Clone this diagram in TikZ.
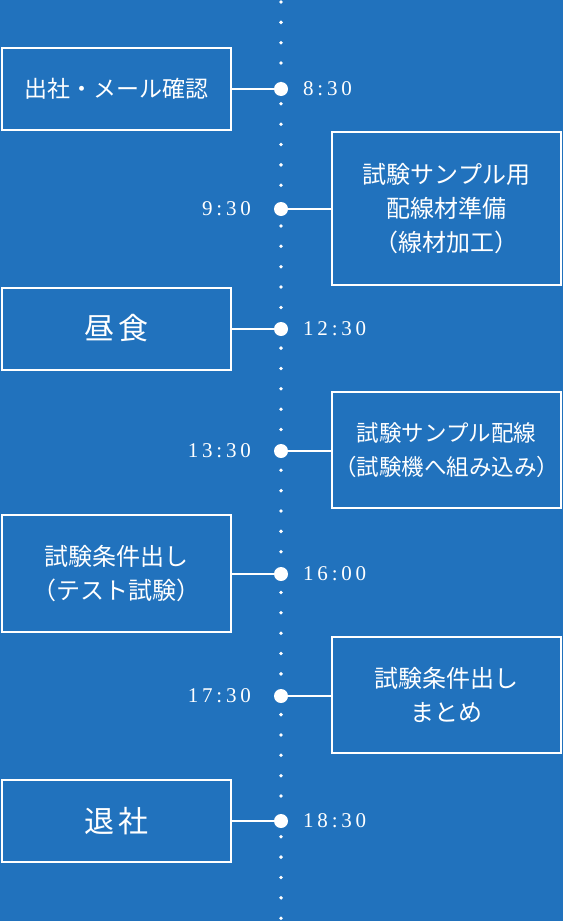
\documentclass[tikz,border=0pt]{standalone}
\usepackage{fontspec}
\setmainfont{Liberation Serif}
\newfontfamily\jp{Noto Sans CJK JP}
\newfontfamily\tmfont[LetterSpace=18]{Liberation Serif}
\definecolor{bg}{RGB}{33,114,189}
\tikzset{
  box/.style={draw=white, line width=2pt, inner sep=0pt, outer sep=0pt, text=white,
    align=center, minimum width=229pt},
  jpmid/.style={font=\jp\fontsize{24}{34}\selectfont},
  jpbig/.style={font=\jp\fontsize{30}{34}\selectfont},
  tdot/.style={circle, fill=white, minimum size=14pt, inner sep=0pt, outer sep=0pt},
  conn/.style={draw=white, line width=2pt},
  tlab/.style={text=white, font=\tmfont\fontsize{21}{21}\selectfont, inner sep=0pt},
}
\begin{document}
\begin{tikzpicture}[x=1pt,y=-1pt]
\fill[bg] (0,0) rectangle (563,921);
\useasboundingbox (0,0) rectangle (563,921);
% dotted axis
\foreach \i in {0,...,45} \fill[white] (281,{2+\i*20.36}) circle (1.9);
% boxes
\node[box, minimum height=82pt, font=\jp\fontsize{23}{30}\selectfont] (b1) at (116.5,89) {出社・メール確認};
\node[box, minimum height=153pt, jpmid] (b2) at (446.5,208.5) {試験サンプル用\\配線材準備\\（線材加工）};
\node[box, minimum height=82pt, jpbig] (b3) at (116.5,328.5) {昼\kern5pt 食};
\node[box, minimum height=116pt, font=\jp\fontsize{22.5}{34}\selectfont] (b4) at (446.5,450) {試験サンプル配線\\（試験機へ組み込み）};
\node[box, minimum height=117pt, jpmid] (b5) at (116.5,573.5) {試験条件出し\\（テスト試験）};
\node[box, minimum height=116pt, jpmid] (b6) at (446.5,695) {試験条件出し\\まとめ};
\node[box, minimum height=82pt, jpbig] (b7) at (116.5,821) {退\kern5pt 社};
% time dots
\node[tdot] (t1) at (281,89) {};
\node[tdot] (t2) at (281,209) {};
\node[tdot] (t3) at (281,329) {};
\node[tdot] (t4) at (281,451) {};
\node[tdot] (t5) at (281,574) {};
\node[tdot] (t6) at (281,696) {};
\node[tdot] (t7) at (281,821) {};
% connectors
\draw[conn] (b1.east) -- (t1);
\draw[conn] (t2) -- (b2.west |- t2);
\draw[conn] (b3.east |- t3) -- (t3);
\draw[conn] (t4) -- (b4.west |- t4);
\draw[conn] (b5.east |- t5) -- (t5);
\draw[conn] (t6) -- (b6.west |- t6);
\draw[conn] (b7.east) -- (t7);
% labels
\node[tlab, anchor=west] (l1) at (303,89) {8:30};
\node[tlab, anchor=east] (l2) at (251,209) {9:30};
\node[tlab, anchor=west] (l3) at (303,329) {12:30};
\node[tlab, anchor=east] (l4) at (251,451) {13:30};
\node[tlab, anchor=west] (l5) at (303,574) {16:00};
\node[tlab, anchor=east] (l6) at (251,696) {17:30};
\node[tlab, anchor=west] (l7) at (303,821) {18:30};
\end{tikzpicture}
\end{document}
